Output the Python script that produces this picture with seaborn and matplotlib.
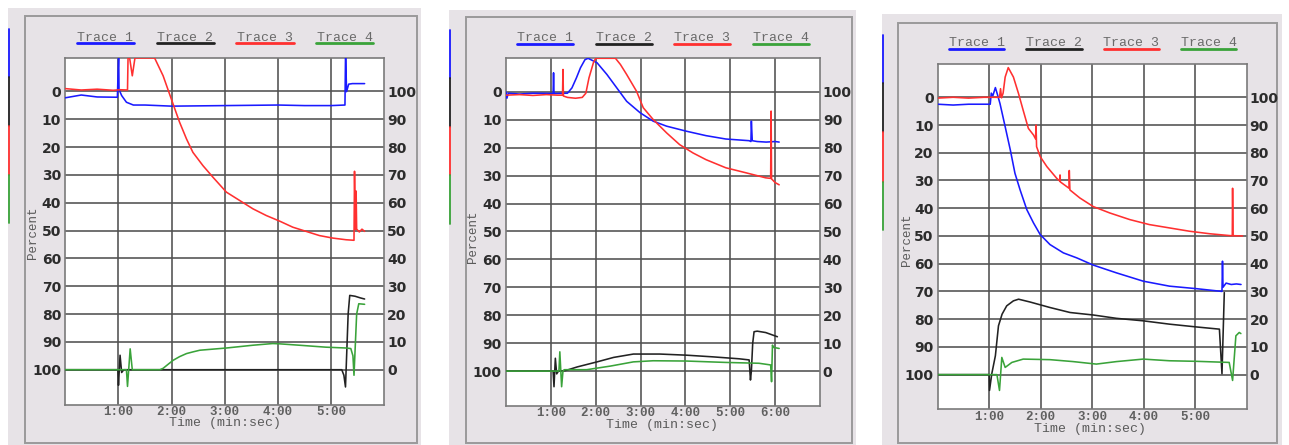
import matplotlib
matplotlib.use("Agg")
import matplotlib.pyplot as plt
import seaborn as sns
import pandas as pd
from matplotlib.patches import Rectangle
from matplotlib.lines import Line2D

# ---------------- data: time in minutes, value on the (inverted) left Percent scale ----------------
# Panel 1
P1_T1_TIME = [0.0, 0.3, 0.6, 0.98, 1.0, 1.005, 1.01, 1.06, 1.15, 1.28, 1.5, 2.0, 2.5, 3.0, 3.5, 4.0, 4.5, 5.0, 5.26, 5.27, 5.275, 5.29, 5.33, 5.4, 5.63]
P1_T1_VAL = [2.3, 1.3, 2.0, 2.1, -12.0, -12.0, -0.7, 1.5, 3.9, 4.9, 4.9, 5.3, 5.2, 5.1, 5.0, 4.9, 5.1, 5.1, 4.9, -12.0, -12.0, 0.1, -2.6, -2.8, -2.8]
P1_T2_TIME = [0.0, 0.99, 1.0, 1.03, 1.06, 1.1, 5.2, 5.24, 5.27, 5.32, 5.35, 5.45, 5.55, 5.63]
P1_T2_VAL = [100, 100, 105.6, 94.8, 101, 100, 100, 102, 106.2, 80, 73.3, 73.6, 74.2, 74.6]
P1_T3_TIME = [0.0, 0.3, 0.6, 0.9, 1.03, 1.17, 1.18, 1.21, 1.26, 1.31, 1.68, 1.84, 1.96, 2.06, 2.15, 2.28, 2.4, 2.59, 2.78, 3.03, 3.28, 3.53, 3.78, 4.03, 4.28, 4.53, 4.78, 5.03, 5.28, 5.43, 5.44, 5.455, 5.47, 5.48, 5.53, 5.58, 5.63]
P1_T3_VAL = [-1.0, -0.5, -0.8, -0.4, -0.6, -0.5, -12, -12, -5.6, -12, -12, -5.6, 0.9, 6.3, 11.1, 17.1, 21.9, 26.7, 30.9, 36.2, 39.2, 42.2, 44.6, 46.6, 48.8, 50.3, 51.8, 52.7, 53.3, 53.5, 28.7, 49.5, 35.8, 49.5, 50.5, 49.5, 50.3]
P1_T4_TIME = [0.0, 1.15, 1.17, 1.22, 1.26, 1.3, 1.78, 1.84, 1.95, 2.03, 2.15, 2.28, 2.4, 2.53, 3.03, 3.53, 3.9, 4.03, 4.4, 4.9, 5.28, 5.37, 5.41, 5.43, 5.48, 5.52, 5.63]
P1_T4_VAL = [100, 100, 106, 92.5, 100, 100, 100, 99.5, 97.8, 96.6, 95.3, 94.2, 93.6, 93.0, 92.2, 91.2, 90.6, 90.7, 91.2, 91.9, 92.2, 92.4, 95, 102, 80, 76.3, 76.5]

# Panel 2
P2_T1_TIME = [0.0, 0.02, 0.05, 0.3, 0.6, 1.05, 1.06, 1.07, 1.08, 1.37, 1.47, 1.57, 1.66, 1.76, 1.83, 2.03, 2.25, 2.47, 2.69, 2.99, 3.28, 3.58, 4.02, 4.46, 4.9, 5.42, 5.46, 5.47, 5.49, 5.6, 5.8, 6.0, 6.09]
P2_T1_VAL = [0.0, 2.3, 0.5, 0.8, 0.5, 0.6, -6.8, 0.6, 0.6, 0.5, -1.4, -5.0, -8.6, -11.5, -12, -10.4, -6.2, -1.4, 3.4, 7.5, 10.5, 12.3, 14.1, 15.7, 16.9, 17.5, 17.8, 10.5, 17.5, 17.8, 18.0, 17.8, 18.0]
P2_T2_TIME = [0.0, 1.05, 1.07, 1.1, 1.13, 1.17, 1.33, 1.59, 2.03, 2.4, 2.84, 3.43, 4.02, 4.61, 5.2, 5.42, 5.45, 5.47, 5.5, 5.53, 5.6, 5.79, 6.05]
P2_T2_VAL = [100, 100, 105.6, 95.4, 101, 100, 99.8, 98.5, 96.7, 95.1, 93.9, 93.9, 94.3, 94.9, 95.6, 96.0, 103.2, 100, 90, 85.9, 85.7, 86.2, 87.7]
P2_T3_TIME = [0.0, 0.3, 0.6, 0.9, 1.15, 1.26, 1.27, 1.28, 1.37, 1.55, 1.7, 1.78, 1.85, 1.95, 2.0, 2.44, 2.55, 2.69, 2.8, 2.91, 3.06, 3.28, 3.58, 3.87, 4.17, 4.46, 4.9, 5.35, 5.79, 5.9, 5.91, 5.92, 5.94, 6.0, 6.09]
P2_T3_VAL = [1.2, 1.0, 1.3, 1.0, 1.2, 1.2, -8.0, 1.5, 2.0, 2.3, 2.0, 0.5, -5.0, -10.5, -12, -12, -9.8, -6.2, -3.2, -0.2, 5.7, 9.9, 14.7, 18.9, 21.9, 24.3, 27.2, 29.0, 30.8, 31.0, 6.9, 31.2, 31.5, 32.5, 33.3]
P2_T4_TIME = [0.0, 1.18, 1.2, 1.24, 1.27, 1.3, 1.8, 2.33, 2.84, 3.28, 4.02, 4.9, 5.64, 5.9, 5.92, 5.94, 5.96, 6.09]
P2_T4_VAL = [100, 100, 93.1, 105.6, 100, 99.5, 99.5, 98.2, 96.7, 96.3, 96.4, 96.9, 97.2, 97.8, 103.8, 90.7, 91.5, 91.9]

# Panel 3
P3_T1_TIME = [0.0, 0.3, 0.6, 0.9, 1.02, 1.04, 1.07, 1.12, 1.16, 1.21, 1.31, 1.41, 1.5, 1.6, 1.73, 1.86, 1.99, 2.18, 2.44, 2.7, 3.02, 3.47, 3.99, 4.5, 5.02, 5.47, 5.52, 5.53, 5.54, 5.6, 5.7, 5.8, 5.89]
P3_T1_VAL = [2.5, 2.8, 2.5, 2.5, 2.5, -1.5, -0.5, -3.5, -1.0, 2.3, 10.6, 19.0, 27.4, 33.4, 40.5, 45.3, 49.5, 53.1, 56.1, 57.9, 60.5, 63.3, 66.3, 68.1, 69.0, 69.9, 70.0, 59.1, 68.5, 67.0, 67.5, 67.3, 67.5]
P3_T2_TIME = [0.0, 1.0, 1.006, 1.05, 1.12, 1.18, 1.25, 1.34, 1.47, 1.57, 1.79, 2.18, 2.57, 3.02, 3.47, 3.99, 4.5, 5.02, 5.47, 5.52, 5.565]
P3_T2_VAL = [100, 100, 105.7, 99.7, 93.2, 82.4, 78.2, 75.2, 73.4, 72.8, 73.8, 75.8, 77.6, 78.5, 79.7, 80.6, 81.8, 82.8, 83.6, 99.7, 70.4]
P3_T3_TIME = [0.0, 0.3, 0.6, 0.9, 1.2, 1.22, 1.24, 1.27, 1.31, 1.37, 1.47, 1.57, 1.66, 1.76, 1.86, 1.9, 1.91, 1.92, 1.99, 2.12, 2.31, 2.37, 2.375, 2.38, 2.55, 2.555, 2.567, 2.76, 3.02, 3.34, 3.73, 4.11, 4.5, 4.89, 5.28, 5.69, 5.72, 5.726, 5.735, 5.92]
P3_T3_VAL = [0.3, 0.0, 0.3, 0.0, 0.0, -3.1, 0.2, -1.5, -7.3, -10.7, -7.3, -1.3, 4.7, 11.2, 13.6, 15.0, 10.0, 17.8, 21.4, 25.0, 29.2, 30.2, 28.0, 30.5, 32.8, 26.4, 33.4, 36.3, 39.4, 41.7, 44.1, 45.9, 47.1, 48.3, 49.2, 49.9, 49.9, 32.8, 49.9, 50.0]
P3_T4_TIME = [0.0, 1.15, 1.2, 1.245, 1.31, 1.44, 1.66, 2.18, 2.63, 3.08, 3.47, 3.99, 4.5, 5.02, 5.66, 5.726, 5.79, 5.855, 5.887]
P3_T4_VAL = [100, 100, 105.7, 93.8, 97.4, 95.6, 94.4, 94.6, 95.3, 96.2, 95.3, 94.4, 95.0, 95.2, 95.6, 102.1, 86.0, 84.8, 85.2]

TRACE_NAMES = ["Trace 1", "Trace 2", "Trace 3", "Trace 4"]
LEFT_TICKS = [0, 10, 20, 30, 40, 50, 60, 70, 80, 90, 100]
RIGHT_TICKS = [0, 10, 20, 30, 40, 50, 60, 70, 80, 90, 100]
X_TICKS_6 = [1, 2, 3, 4, 5]
X_TICKS_7 = [1, 2, 3, 4, 5, 6]
X_LABELS_6 = ["1:00", "2:00", "3:00", "4:00", "5:00"]
X_LABELS_7 = ["1:00", "2:00", "3:00", "4:00", "5:00", "6:00"]

PANEL_DATA = [
    [(P1_T1_TIME, P1_T1_VAL), (P1_T2_TIME, P1_T2_VAL), (P1_T3_TIME, P1_T3_VAL), (P1_T4_TIME, P1_T4_VAL)],
    [(P2_T1_TIME, P2_T1_VAL), (P2_T2_TIME, P2_T2_VAL), (P2_T3_TIME, P2_T3_VAL), (P2_T4_TIME, P2_T4_VAL)],
    [(P3_T1_TIME, P3_T1_VAL), (P3_T2_TIME, P3_T2_VAL), (P3_T3_TIME, P3_T3_VAL), (P3_T4_TIME, P3_T4_VAL)],
]

# ---------------- styling / layout ----------------
COLORS = ["#1a1aff", "#222222", "#ff3030", "#3aa33a"]
BG = "#e7e3e7"
FRAME = "#9a9a9a"
GRID = "#505050"
MONO = "Liberation Mono"

W, H = 1289, 445
LAYOUT = [
    dict(bg=(8, 8, 421, 445), frame=(25, 16, 416.7, 443), plot=(65.3, 58, 384.3, 404.5),
         strip_x=8.5, strip_y=[29.3, 77.3, 126, 175, 223.3],
         leg_x0=76.7, leg_dx=79.8, leg_w=57.3, leg_y=43.3, leg_ty=37.7,
         xmax=6, xt=X_TICKS_6, xl=X_LABELS_6, pct=(33.3, 233), tim=(224.8, 423.3)),
    dict(bg=(449, 10, 856, 445), frame=(465.7, 16.7, 851.7, 443), plot=(506, 58.3, 820, 406),
         strip_x=450, strip_y=[30, 78, 127, 175, 224],
         leg_x0=517.3, leg_dx=78.5, leg_w=56, leg_y=44.3, leg_ty=38.3,
         xmax=7, xt=X_TICKS_7, xl=X_LABELS_7, pct=(473.3, 236.7), tim=(661.5, 425)),
    dict(bg=(882.3, 14, 1281.7, 445), frame=(898.3, 22.7, 1277.3, 443), plot=(937.7, 64, 1246.7, 409.3),
         strip_x=882.8, strip_y=[35, 83, 132, 182, 230],
         leg_x0=949, leg_dx=77.3, leg_w=55.3, leg_y=49.3, leg_ty=43.3,
         xmax=6, xt=X_TICKS_6, xl=X_LABELS_6, pct=(906.7, 240), tim=(1089.7, 429.3)),
]

sns.set_style("white")
fig = plt.figure(figsize=(W / 100, H / 100), dpi=100)
fig.patch.set_facecolor("white")


def fx(px):
    return px / W


def fy(py):
    return 1 - py / H


for lay, traces in zip(LAYOUT, PANEL_DATA):
    x0, y0, x1, y1 = lay["bg"]
    fig.add_artist(Rectangle((fx(x0), fy(y1)), (x1 - x0) / W, (y1 - y0) / H,
                             transform=fig.transFigure, facecolor=BG, edgecolor="none", zorder=-3))
    x0, y0, x1, y1 = lay["frame"]
    fig.add_artist(Rectangle((fx(x0), fy(y1)), (x1 - x0) / W, (y1 - y0) / H,
                             transform=fig.transFigure, facecolor="none", edgecolor=FRAME,
                             lw=1.4, zorder=-2))
    # colored strips at left edge
    sy = lay["strip_y"]
    for i in range(4):
        fig.add_artist(Line2D([fx(lay["strip_x"])] * 2, [fy(sy[i]), fy(sy[i + 1])],
                              transform=fig.transFigure, color=COLORS[i], lw=1.3, zorder=-1))
    # legend headers
    for i, name in enumerate(TRACE_NAMES):
        lx0 = lay["leg_x0"] + i * lay["leg_dx"]
        lx1 = lx0 + lay["leg_w"]
        fig.add_artist(Line2D([fx(lx0), fx(lx1)], [fy(lay["leg_y"])] * 2,
                              transform=fig.transFigure, color=COLORS[i], lw=2.0, zorder=1))
        fig.text(fx((lx0 + lx1) / 2), fy(lay["leg_ty"]), name, ha="center", va="center",
                 family=MONO, fontsize=9.5, color="#6a6a6a")

    px0, py0, px1, py1 = lay["plot"]
    ax = fig.add_axes([fx(px0), fy(py1), (px1 - px0) / W, (py1 - py0) / H])
    ax.set_facecolor("white")
    for i, (t, v) in enumerate(traces):
        df = pd.DataFrame({"time": t, "value": v})
        sns.lineplot(data=df, x="time", y="value", ax=ax, color=COLORS[i], lw=1.15,
                     estimator=None, sort=False, zorder=3 + i)
    ax.set_xlim(0, lay["xmax"])
    ax.set_ylim(112.5, -12)
    ax.set_xticks(lay["xt"])
    ax.set_xticklabels(lay["xl"], family=MONO, fontsize=9, fontweight="bold", color="#606060")
    ax.set_yticks(LEFT_TICKS)
    ax.set_yticklabels([str(v) for v in LEFT_TICKS], fontsize=10, fontweight="bold", color="#2c2c2c")
    ax.tick_params(axis="both", length=0)
    ax.tick_params(axis="x", pad=1.0)
    ax.tick_params(axis="y", pad=3.0)
    ax.grid(True, color=GRID, lw=1.15)
    ax.set_axisbelow(True)
    for sp in ax.spines.values():
        sp.set_color("#7a7a7a")
        sp.set_linewidth(1.2)
    ax.set_xlabel("Time (min:sec)", family=MONO, fontsize=9.5, color="#5a5a5a")
    ax.xaxis.set_label_coords((lay["tim"][0] - px0) / (px1 - px0), (py1 - lay["tim"][1]) / (py1 - py0))
    ax.xaxis.label.set_va("center")
    ax.set_ylabel("Percent", family=MONO, fontsize=9, color="#5a5a5a")
    ax.yaxis.set_label_coords((lay["pct"][0] - px0) / (px1 - px0), (py1 - lay["pct"][1]) / (py1 - py0))
    ax.yaxis.label.set_va("center")

    tw = ax.twinx()
    tw.set_ylim(100 - 112.5, 100 + 12)
    tw.set_yticks(RIGHT_TICKS)
    tw.set_yticklabels([str(v) for v in RIGHT_TICKS], fontsize=10, fontweight="bold", color="#2c2c2c")
    tw.tick_params(axis="y", length=0, pad=2)
    tw.grid(False)
    for sp in tw.spines.values():
        sp.set_visible(False)

fig.savefig("out.png", dpi=100, facecolor="white")
